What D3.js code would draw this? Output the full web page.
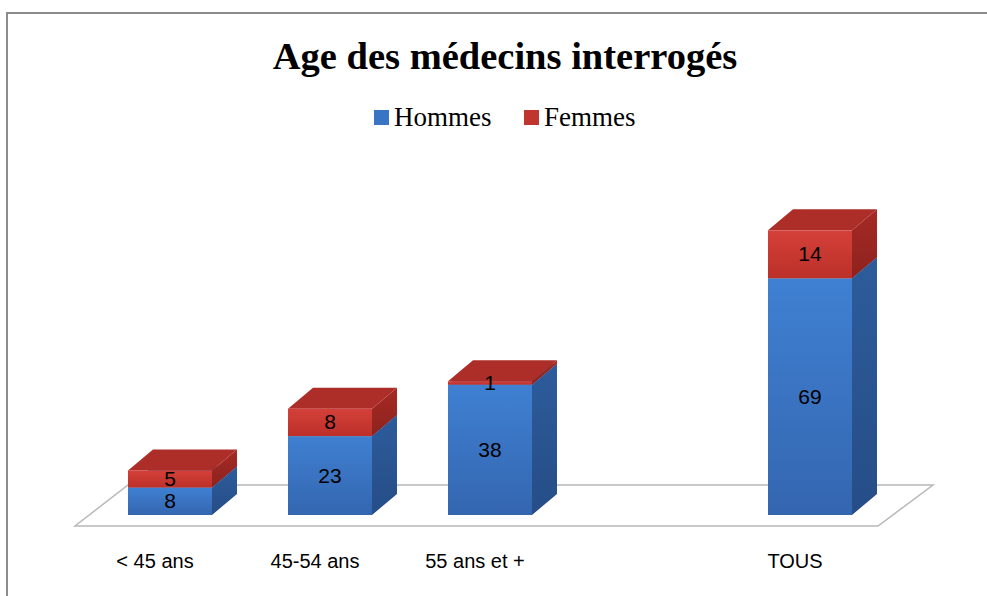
<!DOCTYPE html>
<html>
<head>
  <meta charset="utf-8">
  <script src="https://d3js.org/d3.v7.min.js"></script>
  <style>
    body { margin: 0; background: #fff; }
    .cat { font: 20px "Liberation Sans", Arial, sans-serif; fill: #000; text-anchor: middle; }
    .val { font: 21px "Liberation Sans", Arial, sans-serif; fill: #000; text-anchor: middle; }
  </style>
</head>
<body>
<div id="chart"></div>
<script>
  var categories = ["< 45 ans", "45-54 ans", "55 ans et +", "", "TOUS"];
  var hommes = [8, 23, 38, null, 69];
  var femmes = [5, 8, 1, null, 14];
  var seriesNames = ["Hommes", "Femmes"];

  var width = 987, height = 596;
  var depthX = 25, depthY = -21;

  var svg = d3.select("#chart").append("svg")
    .attr("width", width)
    .attr("height", height);

  var defs = svg.append("defs");
  function grad(id, c1, c2) {
    var g = defs.append("linearGradient").attr("id", id)
      .attr("x1", 0).attr("y1", 0).attr("x2", 0).attr("y2", 1);
    g.append("stop").attr("offset", "0%").attr("stop-color", c1);
    g.append("stop").attr("offset", "100%").attr("stop-color", c2);
  }
  grad("blueFront", "#3f80d2", "#3466b0");
  grad("blueSide", "#2d5c9c", "#264d86");
  grad("redFront", "#d4403a", "#bc3029");
  grad("redSide", "#a52a25", "#8e221e");

  var colors = {
    Hommes: { front: "url(#blueFront)", side: "url(#blueSide)", top: "#3a6fb8", legend: "#3a74c4" },
    Femmes: { front: "url(#redFront)", side: "url(#redSide)", top: "#ad2e29", legend: "#c0362f" }
  };

  // chart frame
  svg.append("rect")
    .attr("x", 7).attr("y", 13)
    .attr("width", 1000).attr("height", 600)
    .attr("fill", "none")
    .attr("stroke", "#8c8c8c")
    .attr("stroke-width", 2);

  svg.append("text")
    .attr("x", 505).attr("y", 69)
    .attr("text-anchor", "middle")
    .style("font", "bold 38.5px 'Liberation Serif', 'Times New Roman', serif")
    .text("Age des médecins interrogés");

  // legend
  var legend = svg.append("g").selectAll("g")
    .data(seriesNames)
    .enter().append("g")
    .attr("transform", function(d, i) { return "translate(" + (374 + i * 150) + ",0)"; });
  legend.append("rect")
    .attr("x", 0).attr("y", 110)
    .attr("width", 15).attr("height", 15)
    .attr("fill", function(d) { return colors[d].legend; });
  legend.append("text")
    .attr("x", 20).attr("y", 126)
    .style("font", "27px 'Liberation Serif', 'Times New Roman', serif")
    .text(function(d) { return d; });

  var x = d3.scaleBand()
    .domain(categories)
    .range([90, 890])
    .paddingInner(0.475)
    .paddingOuter(0.2375);

  var y = d3.scaleLinear()
    .domain([0, 100])
    .range([515, 172]);

  // floor
  var fl = x.range()[0] - 15, fr = x.range()[1] - 12;
  var fy = y(0) + 11;
  svg.append("path")
    .attr("d", "M" + fl + "," + fy + "L" + fr + "," + fy +
      "L" + (fr + 55) + "," + (fy - 41) + "L" + (fl + 53) + "," + (fy - 41) + "Z")
    .attr("fill", "#fff")
    .attr("stroke", "#b8b8b8")
    .attr("stroke-width", 1.5);

  var table = categories.map(function(c, i) {
    return { cat: c, Hommes: hommes[i] || 0, Femmes: femmes[i] || 0, empty: hommes[i] == null };
  });

  var stacked = d3.stack().keys(seriesNames)(table);

  var bars = svg.append("g");
  table.forEach(function(row, i) {
    if (row.empty) return;
    stacked.forEach(function(s) {
      var d = s[i];
      var x0 = x(row.cat), w = x.bandwidth();
      var yt = y(d[1]), yb = y(d[0]);
      var c = colors[s.key];
      var g = bars.append("g");
      g.append("path")
        .attr("d", "M" + (x0 + w) + "," + yb + "L" + (x0 + w + depthX) + "," + (yb + depthY) +
          "L" + (x0 + w + depthX) + "," + (yt + depthY) + "L" + (x0 + w) + "," + yt + "Z")
        .attr("fill", c.side);
      g.append("path")
        .attr("d", "M" + x0 + "," + yt + "L" + (x0 + depthX) + "," + (yt + depthY) +
          "L" + (x0 + w + depthX) + "," + (yt + depthY) + "L" + (x0 + w) + "," + yt + "Z")
        .attr("fill", c.top);
      g.append("rect")
        .attr("x", x0).attr("y", yt)
        .attr("width", w).attr("height", yb - yt)
        .attr("fill", c.front);
    });
  });

  // value labels
  table.forEach(function(row, i) {
    if (row.empty) return;
    stacked.forEach(function(s) {
      var d = s[i];
      svg.append("text")
        .attr("class", "val")
        .attr("x", x(row.cat) + x.bandwidth() / 2)
        .attr("y", (y(d[0]) + y(d[1])) / 2 + 7)
        .text(d[1] - d[0]);
    });
  });

  // category labels
  svg.append("g").selectAll("text")
    .data(categories)
    .enter().append("text")
    .attr("class", "cat")
    .attr("x", function(d) { return x(d) + x.bandwidth() / 2 - 15; })
    .attr("y", 568)
    .text(function(d) { return d; });
</script>
</body>
</html>
